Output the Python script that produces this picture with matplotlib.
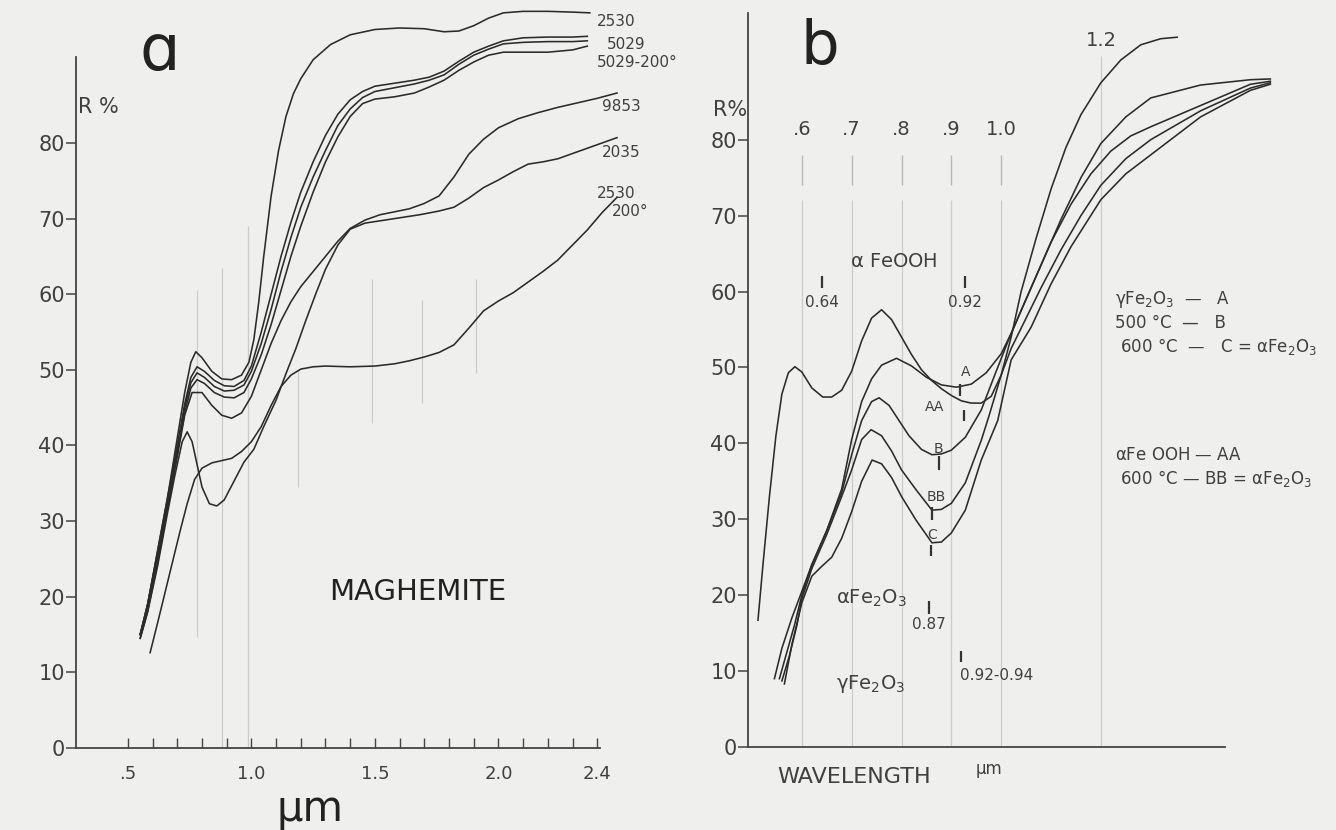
import matplotlib
matplotlib.use("Agg")
import matplotlib.pyplot as plt

plt.rcParams['font.family'] = ['DejaVu Sans']
plt.rcParams['mathtext.default'] = 'regular'

INK = '#2b2b2b'
TXT = '#404040'
GRID = '#cbcbcb'

# ---------------- panel a : maghemite spectra ----------------
wl_2530 = [0.55, 0.58, 0.62, 0.66, 0.70, 0.73, 0.755, 0.775, 0.80, 0.84, 0.88, 0.92, 0.96, 0.99, 1.01, 1.03,
           1.05, 1.08, 1.11, 1.14, 1.17, 1.20, 1.25, 1.32, 1.40, 1.50, 1.60, 1.70, 1.78, 1.84, 1.90, 1.96,
           2.02, 2.10, 2.20, 2.30, 2.37]
r_2530 = [15, 19, 26, 33, 41, 47, 51, 52.4, 51.6, 49.8, 48.8, 48.7, 49.3, 51, 54, 59,
          65, 73, 79, 83.5, 86.5, 88.5, 91, 93, 94.3, 95, 95.2, 95.1, 94.7, 94.8, 95.5, 96.5,
          97.2, 97.4, 97.4, 97.3, 97.2]

wl_5029 = [0.55, 0.58, 0.62, 0.66, 0.70, 0.73, 0.755, 0.78, 0.81, 0.85, 0.89, 0.93, 0.97, 1.00, 1.04, 1.08,
           1.12, 1.16, 1.20, 1.25, 1.30, 1.35, 1.40, 1.45, 1.50, 1.58, 1.66, 1.72, 1.78, 1.84, 1.90, 1.96,
           2.02, 2.10, 2.20, 2.30, 2.36]
r_5029 = [15, 19, 26, 33, 40, 45.5, 49, 50.4, 49.8, 48.6, 47.9, 47.8, 48.6, 50.5, 55, 60,
          65, 69.5, 73.5, 77.5, 81, 83.8, 85.7, 86.8, 87.5, 87.9, 88.3, 88.7, 89.5, 90.8, 92, 92.8,
          93.5, 93.9, 94, 94, 94.1]
r_5029b = [15, 19, 25.5, 32.5, 39.5, 45, 48.3, 49.6, 49, 47.8, 47.2, 47.3, 48, 49.8, 53.5, 58,
           63, 67.5, 71.5, 75.5, 79, 82.3, 84.5, 86, 86.8, 87.3, 87.8, 88.3, 89, 90.4, 91.6, 92.4,
           93.1, 93.3, 93.4, 93.4, 93.5]
r_5029_200 = [15, 18.5, 25, 32, 39, 44.3, 47.6, 48.7, 48.2, 47, 46.4, 46.3, 47, 48.8, 52, 56,
              60.5, 65, 69, 73.5, 77.5, 80.8, 83.5, 85.2, 85.8, 86.1, 86.6, 87.4, 88.3, 89.6, 90.7, 91.6,
              92, 92, 92, 92.3, 92.8]

wl_9853 = [0.55, 0.58, 0.62, 0.66, 0.70, 0.73, 0.76, 0.80, 0.84, 0.88, 0.92, 0.96, 1.00, 1.04, 1.08, 1.12,
           1.16, 1.20, 1.25, 1.30, 1.35, 1.40, 1.46, 1.52, 1.58, 1.64, 1.70, 1.76, 1.82, 1.88, 1.94, 2.00,
           2.08, 2.16, 2.24, 2.32, 2.40, 2.48]
r_9853 = [14.5, 18, 24.5, 31.5, 38.5, 44, 47, 47, 45.3, 44, 43.6, 44.3, 46.5, 50, 53.5, 56.5,
          59, 61, 63, 65, 67, 68.7, 69.8, 70.5, 70.9, 71.3, 72, 73, 75.5, 78.5, 80.5, 82,
          83.2, 84, 84.7, 85.3, 85.9, 86.6]

wl_2035 = [0.55, 0.58, 0.62, 0.66, 0.69, 0.72, 0.74, 0.76, 0.78, 0.80, 0.83, 0.86, 0.89, 0.93, 0.97, 1.01,
           1.05, 1.10, 1.14, 1.18, 1.22, 1.26, 1.30, 1.35, 1.40, 1.46, 1.52, 1.60, 1.68, 1.76, 1.82, 1.88,
           1.94, 2.00, 2.06, 2.12, 2.18, 2.24, 2.30, 2.36, 2.42, 2.48]
r_2035 = [14.5, 18, 24, 31, 36, 40.5, 41.8, 40.5, 37.5, 34.5, 32.3, 32, 32.8, 35.3, 37.8, 39.5,
          42.5, 46, 49.5, 52.8, 56.5, 60, 63.3, 66.5, 68.6, 69.4, 69.7, 70.1, 70.5, 71, 71.5, 72.7,
          74.1, 75.1, 76.2, 77.2, 77.5, 77.9, 78.6, 79.3, 80, 80.7]

wl_2530_200 = [0.59, 0.62, 0.65, 0.68, 0.71, 0.74, 0.77, 0.80, 0.84, 0.88, 0.92, 0.96, 1.00, 1.04, 1.08, 1.12,
               1.16, 1.20, 1.25, 1.30, 1.40, 1.50, 1.58, 1.64, 1.70, 1.76, 1.82, 1.88, 1.94, 2.00, 2.06, 2.12,
               2.18, 2.24, 2.30, 2.36, 2.42, 2.48]
r_2530_200 = [12.6, 16.5, 20.5, 24.5, 28.5, 32.3, 35.5, 37.0, 37.7, 38, 38.3, 39.2, 40.5, 42.5, 45.3, 47.8,
              49.3, 50.1, 50.4, 50.5, 50.4, 50.5, 50.8, 51.2, 51.7, 52.3, 53.3, 55.5, 57.8, 59.1, 60.2, 61.6,
              63, 64.5, 66.5, 68.5, 70.8, 72.8]

a_curves = [(wl_2530, r_2530), (wl_5029, r_5029), (wl_5029, r_5029b), (wl_5029, r_5029_200),
            (wl_9853, r_9853), (wl_2035, r_2035), (wl_2530_200, r_2530_200)]

a_labels = ['2530', '5029', '5029-200°', '9853', '2035', '2530', '200°']
a_label_x = [2.40, 2.44, 2.40, 2.42, 2.42, 2.40, 2.46]
a_label_r = [96.0, 93.0, 90.6, 84.8, 78.7, 73.3, 71.0]

a_xticks = [0.5, 0.6, 0.7, 0.8, 0.9, 1.0, 1.1, 1.2, 1.3, 1.4, 1.5, 1.6, 1.7, 1.8, 1.9, 2.0, 2.1, 2.2, 2.3, 2.4]
a_xticklabels = ['.5', '', '', '', '', '1.0', '', '', '', '', '1.5', '', '', '', '', '2.0', '', '', '', '2.4']
r_ticks = [0, 10, 20, 30, 40, 50, 60, 70, 80]

# faint vertical guide lines (x, from R, to R)
a_guides_x = [0.78, 0.88, 0.985, 1.19, 1.49, 1.69, 1.91]
a_guides_lo = [14.7, 0, 0, 34.5, 43, 45.6, 49.6]
a_guides_hi = [60.6, 63.5, 69, 50, 62, 59.3, 62]

# ---------------- panel b : iron oxides ----------------
wl_AA = [0.512, 0.522, 0.535, 0.548, 0.56, 0.573, 0.586, 0.60, 0.62, 0.642, 0.66, 0.68, 0.70, 0.72, 0.74, 0.76,
         0.78, 0.80, 0.82, 0.84, 0.86, 0.88, 0.90, 0.92, 0.94, 0.96, 0.98, 1.00, 1.02, 1.04, 1.07, 1.10,
         1.13, 1.16, 1.20, 1.24, 1.28, 1.32, 1.353]
r_AA = [16.7, 24, 33, 41, 46.5, 49.3, 50.1, 49.4, 47.3, 46.1, 46.1, 47, 49.5, 53.5, 56.5, 57.6,
        56.3, 54, 51.7, 49.7, 48.3, 47.2, 46.3, 45.6, 45.3, 45.3, 46.2, 49, 54, 60, 67, 73.5,
        79, 83.3, 87.5, 90.5, 92.5, 93.3, 93.5]

wl_A = [0.545, 0.56, 0.58, 0.60, 0.62, 0.65, 0.68, 0.70, 0.72, 0.74, 0.76, 0.79, 0.82, 0.85, 0.88, 0.91,
        0.94, 0.97, 1.00, 1.02, 1.05, 1.08, 1.12, 1.16, 1.20, 1.25, 1.30, 1.40, 1.50, 1.54]
r_A = [9, 13, 17, 20.5, 24, 28.5, 34, 40.5, 45.5, 48.5, 50.3, 51.2, 50.2, 48.7, 47.7, 47.4,
       47.8, 49.3, 51.8, 54.5, 59, 63.5, 69.5, 75, 79.5, 83, 85.5, 87.2, 87.9, 88]

wl_B = [0.555, 0.57, 0.585, 0.60, 0.62, 0.65, 0.68, 0.70, 0.72, 0.74, 0.755, 0.775, 0.795, 0.815, 0.84, 0.861,
        0.88, 0.90, 0.928, 0.96, 0.99, 1.014, 1.04, 1.07, 1.10, 1.14, 1.18, 1.22, 1.26, 1.30, 1.40, 1.50, 1.54]
r_B = [9, 12.5, 16, 20, 24, 28.5, 33.5, 38.5, 43, 45.5, 46, 45, 43, 41, 39.2, 38.5,
       38.6, 39.1, 40.8, 44.4, 49.5, 53.5, 57.5, 62, 66.5, 71.5, 75.5, 78.5, 80.5, 81.7, 84.5, 87.3, 87.7]

wl_BB = [0.56, 0.575, 0.59, 0.60, 0.62, 0.65, 0.68, 0.70, 0.72, 0.739, 0.76, 0.78, 0.80, 0.829, 0.861, 0.88,
         0.90, 0.928, 0.96, 0.975, 1.00, 1.02, 1.05, 1.08, 1.12, 1.16, 1.20, 1.25, 1.30, 1.40, 1.50, 1.54]
r_BB = [8.7, 12, 16, 19.5, 23.5, 28, 33, 36.5, 40.5, 41.8, 41, 39, 36.5, 33.9, 31.2, 31.3,
        32.1, 34.8, 40.4, 43.5, 49, 52.5, 56.5, 60.5, 65.5, 70, 74, 77.5, 80, 83.8, 86.8, 87.5]

wl_C = [0.565, 0.58, 0.60, 0.62, 0.64, 0.66, 0.68, 0.70, 0.72, 0.741, 0.76, 0.78, 0.80, 0.829, 0.861, 0.88,
        0.90, 0.928, 0.96, 0.993, 1.02, 1.06, 1.10, 1.14, 1.20, 1.25, 1.30, 1.40, 1.50, 1.54]
r_C = [8.3, 13.5, 19, 22.5, 23.8, 25, 27.5, 31, 35, 37.8, 37.3, 35.5, 33, 29.9, 26.9, 27,
       28.2, 31.2, 37.8, 43, 51, 55.3, 61, 65.9, 72.1, 75.5, 78, 83, 86.5, 87.3]

b_curves = [(wl_AA, r_AA), (wl_A, r_A), (wl_B, r_B), (wl_BB, r_BB), (wl_C, r_C)]

b_top_ticks = [0.6, 0.7, 0.8, 0.9, 1.0]
b_top_labels = ['.6', '.7', '.8', '.9', '1.0']

# ---------------- figure ----------------
fig = plt.figure(figsize=(13.36, 8.30), dpi=100)
fig.patch.set_facecolor('#efefed')

W, H = 1336.0, 830.0

# panel a: x 0.29..2.55 -> px 76..636, R 0..98.9 -> px 748..0
axa = fig.add_axes([76 / W, (H - 748) / H, (636 - 76) / W, 748 / H])
axa.set_xlim(0.29, 2.557)
axa.set_ylim(0, 98.9)
axa.patch.set_alpha(0)

for gx, lo, hi in zip(a_guides_x, a_guides_lo, a_guides_hi):
    axa.vlines(gx, lo, hi, color=GRID, lw=0.9, zorder=1)

for xs, ys in a_curves:
    axa.plot(xs, ys, color=INK, lw=1.15, zorder=3, clip_on=False)

for lab, lx, ly in zip(a_labels, a_label_x, a_label_r):
    axa.text(lx, ly, lab, fontsize=11, color=TXT, va='center', ha='left', clip_on=False)

for s in ['top', 'right']:
    axa.spines[s].set_visible(False)
axa.spines['left'].set_bounds(0, 91.4)
axa.spines['bottom'].set_bounds(0.29, 2.41)
for s in ['left', 'bottom']:
    axa.spines[s].set_color('#444444')
    axa.spines[s].set_linewidth(1.3)

axa.set_yticks(r_ticks)
axa.set_yticklabels([str(v) for v in r_ticks])
axa.tick_params(axis='y', direction='out', length=7, width=1.1, colors='#444444',
                labelsize=15, labelcolor=TXT, pad=1)
axa.set_xticks(a_xticks)
axa.set_xticklabels(a_xticklabels)
axa.tick_params(axis='x', direction='in', length=7, width=1.0, colors='#444444',
                labelsize=13, labelcolor=TXT, pad=12)

axa.text(0.63, 92.0, 'ɑ', fontsize=46, color='#222222', ha='center', va='center')
axa.text(0.38, 84.7, 'R %', fontsize=15, color=TXT, ha='center', va='center')
axa.text(1.674, 20.6, 'MAGHEMITE', fontsize=21, color='#222222', ha='center', va='center')
axa.text(1.237, -8.0, 'µm', fontsize=30, color='#222222', ha='center', va='center', clip_on=False)

# panel b: x 0.492..1.6 -> px 748..1304, R 0..98.4 -> px 747..0
axb = fig.add_axes([748 / W, (H - 747) / H, (1304 - 748) / W, 747 / H])
axb.set_xlim(0.492, 1.6075)
axb.set_ylim(0, 98.4)
axb.patch.set_alpha(0)

for gx in b_top_ticks:
    axb.vlines(gx, 0, 72, color=GRID, lw=0.9, zorder=1)
    axb.vlines(gx, 74, 78, color='#b8b8b8', lw=1.0, zorder=1)
axb.vlines(1.2, 0, 91, color=GRID, lw=0.9, zorder=1)

for xs, ys in b_curves:
    axb.plot(xs, ys, color=INK, lw=1.15, zorder=3, clip_on=False)

for s in ['top', 'right']:
    axb.spines[s].set_visible(False)
axb.spines['left'].set_bounds(0, 96.7)
axb.spines['bottom'].set_bounds(0.492, 1.45)
for s in ['left', 'bottom']:
    axb.spines[s].set_color('#444444')
    axb.spines[s].set_linewidth(1.3)

axb.set_yticks(r_ticks)
axb.set_yticklabels([str(v) for v in r_ticks])
axb.tick_params(axis='y', direction='out', length=7, width=1.1, colors='#444444',
                labelsize=15, labelcolor=TXT, pad=1)
axb.set_xticks([])

for tx, tl in zip(b_top_ticks, b_top_labels):
    axb.text(tx, 81.3, tl, fontsize=14, color=TXT, ha='center', va='center')
axb.text(1.2, 93.1, '1.2', fontsize=14, color=TXT, ha='center', va='center')

axb.text(0.636, 92.2, 'b', fontsize=44, color='#222222', ha='center', va='center')
axb.text(0.457, 83.9, 'R%', fontsize=15, color=TXT, ha='center', va='center', clip_on=False)

# marker bars and small annotations
bar_x = [0.64, 0.927, 0.917, 0.925, 0.875, 0.861, 0.859, 0.855, 0.919]
bar_lo = [60.4, 60.4, 46.2, 42.9, 36.5, 29.9, 25.2, 17.5, 11.2]
bar_hi = [62.0, 62.0, 47.8, 44.4, 38.3, 31.6, 26.6, 19.2, 12.6]
axb.vlines(bar_x, bar_lo, bar_hi, color='#333333', lw=1.6, zorder=4)

axb.text(0.785, 63.9, r'$\alpha$ FeOOH', fontsize=14, color=TXT, ha='center', va='center')
axb.text(0.64, 58.5, '0.64', fontsize=11, color=TXT, ha='center', va='center')
axb.text(0.927, 58.5, '0.92', fontsize=11, color=TXT, ha='center', va='center')
axb.text(0.929, 49.4, 'A', fontsize=10, color=TXT, ha='center', va='center')
axb.text(0.867, 44.8, 'AA', fontsize=10, color=TXT, ha='center', va='center')
axb.text(0.875, 39.3, 'B', fontsize=10, color=TXT, ha='center', va='center')
axb.text(0.869, 32.9, 'BB', fontsize=10, color=TXT, ha='center', va='center')
axb.text(0.861, 27.9, 'C', fontsize=10, color=TXT, ha='center', va='center')
axb.text(0.739, 19.6, r'$\alpha$Fe$_2$O$_3$', fontsize=14, color=TXT, ha='center', va='center')
axb.text(0.855, 16.1, '0.87', fontsize=11, color=TXT, ha='center', va='center')
axb.text(0.739, 8.3, r'$\gamma$Fe$_2$O$_3$', fontsize=14, color=TXT, ha='center', va='center')
axb.text(0.99, 9.4, '0.92-0.94', fontsize=11, color=TXT, ha='center', va='center')

axb.text(0.704, -4.0, 'WAVELENGTH', fontsize=16, color=TXT, ha='center', va='center', clip_on=False)
axb.text(0.975, -2.9, 'µm', fontsize=12, color=TXT, ha='center', va='center', clip_on=False)

legend_lines = [r'$\gamma$Fe$_2$O$_3$  —   A',
                '500 °C  —   B',
                r' 600 °C  —   C = $\alpha$Fe$_2$O$_3$',
                r'$\alpha$Fe OOH — AA',
                r' 600 °C — BB = $\alpha$Fe$_2$O$_3$']
legend_r = [58.9, 55.9, 52.8, 38.5, 35.4]
for line, lr in zip(legend_lines, legend_r):
    axb.text(1.229, lr, line, fontsize=12, color=TXT, ha='left', va='center', clip_on=False)

fig.savefig('out.png', dpi=100, facecolor=fig.get_facecolor())
